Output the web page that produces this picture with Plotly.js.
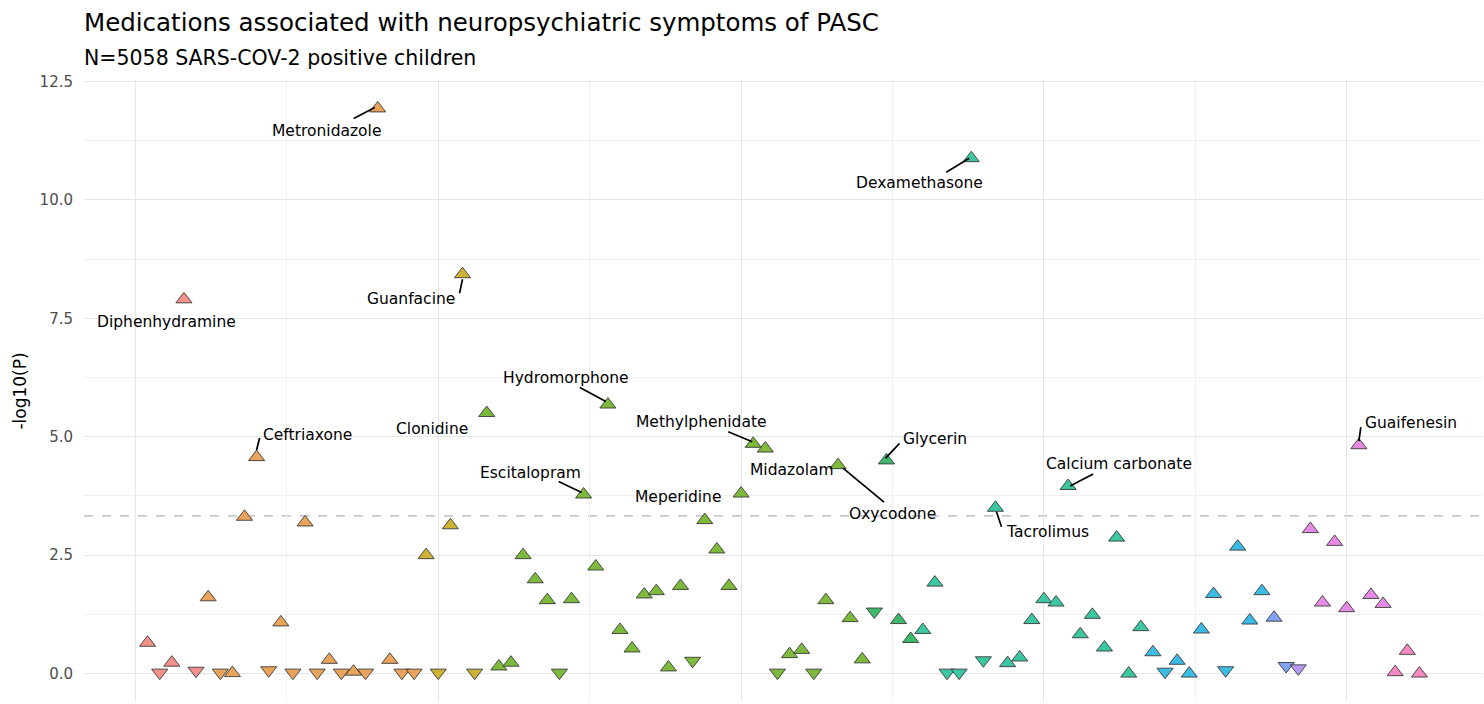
<!DOCTYPE html>
<html>
<head>
<meta charset="utf-8">
<script src="https://cdn.plot.ly/plotly-3.0.1.min.js"></script>
<style>
html,body{margin:0;padding:0;background:#fff;}
#chart{width:1484px;height:704px;}
</style>
</head>
<body>
<div id="chart"></div>
<script>
// ---------------- DATA ----------------
// medication order along the x axis: 1..106
const medIndex = [
  1,2,3,4,5,6,7,8,9,10,11,12,13,14,15,16,17,18,19,20,
  21,22,23,24,25,26,27,28,29,30,31,32,33,34,35,36,37,38,39,40,
  41,42,43,44,45,46,47,48,49,50,51,52,53,54,55,56,57,58,59,60,
  61,62,63,64,65,66,67,68,69,70,71,72,73,74,75,76,77,78,79,80,
  81,82,83,84,85,86,87,88,89,90,91,92,93,94,95,96,97,98,99,100,
  101,102,103,104,105,106
];
// -log10(P)
const negLogP = [
  0.65,0.02,0.23,7.90,0.06,1.61,0.02,0.01,3.31,4.57,
  0.07,1.08,0.02,3.19,0.02,0.29,0.02,0.04,0.02,11.93,
  0.29,0.02,0.02,2.50,0.02,3.13,8.43,0.02,5.50,0.15,
  0.23,2.50,1.99,1.55,0.02,1.57,3.78,2.26,5.68,0.92,
  0.53,1.67,1.74,0.13,1.85,0.27,3.24,2.62,1.85,3.80,
  4.85,4.75,0.02,0.41,0.50,0.02,1.55,4.40,1.17,0.30,
  1.31,4.50,1.13,0.73,0.92,1.92,0.02,0.02,10.88,0.28,
  3.50,0.22,0.34,1.13,1.57,1.50,3.96,0.83,1.24,0.55,
  2.87,0.00,0.98,0.45,0.04,0.27,0.00,0.93,1.68,0.07,
  2.68,1.12,1.74,1.18,0.16,0.11,3.05,1.50,2.78,1.38,
  4.82,1.66,1.47,0.03,0.48,0.00
];
// direction of association: "up" = risk, "down" = protective
const direction = [
  "up","down","up","up","down","up","down","up","up","up",
  "down","up","down","up","down","up","down","up","down","up",
  "up","down","down","up","down","up","up","down","up","up",
  "up","up","up","up","down","up","up","up","up","up",
  "up","up","up","up","up","down","up","up","up","up",
  "up","up","down","up","up","down","up","up","up","up",
  "down","up","up","up","up","up","down","down","up","down",
  "up","up","up","up","up","up","up","up","up","up",
  "up","up","up","up","down","up","up","up","up","down",
  "up","up","up","up","down","down","up","up","up","up",
  "up","up","up","up","up","up"
];
// medication class (group) of each point
const medClass = [
  "A","A","A","A","A",
  "B","B","B","B","B","B","B","B","B","B","B","B","B","B","B","B","B","B",
  "C","C","C","C","C",
  "D","D","D","D","D","D","D","D","D","D","D","D","D","D","D","D",
  "D","D","D","D","D","D","D","D","D","D","D","D","D","D","D","D",
  "E","E","E","E",
  "F","F","F","F","F","F","F","F","F","F","F","F","F","F","F","F","F","F","F",
  "G","G","G","G","G","G","G","G","G","G",
  "H","H",
  "I",
  "J","J","J","J","J","J","J",
  "K","K","K"
];
const classOrder = ["A","B","C","D","E","F","G","H","I","J","K"];

// labelled medications and the position (x index) of their point
const labelNames = ["Metronidazole","Dexamethasone","Guanfacine","Diphenhydramine",
  "Hydromorphone","Clonidine","Methylphenidate","Guaifenesin","Ceftriaxone",
  "Glycerin","Midazolam","Oxycodone","Calcium carbonate","Escitalopram",
  "Meperidine","Tacrolimus"];
const labelIndex = [20,69,27,4,39,29,51,101,10,62,52,58,77,37,47,71];

// significance threshold line (-log10 of Bonferroni P)
const threshold = 3.33;

// y tick values
const yTicks = [0,2.5,5,7.5,10,12.5];

const titleText = "Medications associated with neuropsychiatric symptoms of PASC";
const subtitleText = "N=5058 SARS-COV-2 positive children";

// ---------------- STYLES ----------------
const classColors = {
  A:"#F4908A", B:"#EAA35B", C:"#CDB236", D:"#7DBA3C", E:"#3DBA6C",
  F:"#3CC6A2", G:"#3CBCE5", H:"#80A3F3", I:"#B699F5", J:"#E78AE5", K:"#F48ABF"
};
// label placement in screen pixels relative to the point (x right, y down):
//  text: [dx, dy] centre of the text; seg: [sx, sy, ex, ey] leader segment or null
const labelPlacement = {
  "Metronidazole":   {text:[-51, 23], seg:[-24, 10, -3, -1]},
  "Dexamethasone":   {text:[-52, 25], seg:[-25, 14, -2, 0]},
  "Guanfacine":      {text:[-52, 25], seg:[-3, 19, 0, 5]},
  "Diphenhydramine": {text:[-17, 23], seg:null},
  "Hydromorphone":   {text:[-42,-27], seg:[-28,-17, -2,-3]},
  "Clonidine":       {text:[-55, 16], seg:null},
  "Methylphenidate": {text:[-52,-22], seg:[-25,-12, -1,-2]},
  "Guaifenesin":     {text:[ 52,-22], seg:[2,-18, 0,-4]},
  "Ceftriaxone":     {text:[ 51,-22], seg:[3,-19, 0,-7]},
  "Glycerin":        {text:[ 49,-21], seg:[13,-17, -1,-2]},
  "Midazolam":       {text:[ 27, 21], seg:null},
  "Oxycodone":       {text:[ 54, 49], seg:[46,37, 5,3]},
  "Calcium carbonate":{text:[51,-22], seg:[25,-12, 2,0]},
  "Escitalopram":    {text:[-53,-22], seg:[-25,-13, -2,-2]},
  "Meperidine":      {text:[-27,-23], seg:null},
  "Tacrolimus":      {text:[ 52, 24], seg:[6,19, 1,4]}
};
const FONT = "DejaVu Sans, Liberation Sans, Arial, sans-serif";

// ---------------- TRACES ----------------
const traces = [];
classOrder.forEach(cls => {
  ["up","down"].forEach(dir => {
    const xs = [], ys = [];
    for (let i = 0; i < medIndex.length; i++) {
      if (medClass[i] === cls && direction[i] === dir) {
        xs.push(medIndex[i]); ys.push(negLogP[i]);
      }
    }
    if (!xs.length) return;
    traces.push({
      type: "scatter", mode: "markers", x: xs, y: ys,
      name: cls + " " + dir, showlegend: false, hoverinfo: "x+y",
      marker: {
        symbol: dir === "up" ? "triangle-up" : "triangle-down",
        size: 14, color: classColors[cls],
        line: {color: "#3a3a3a", width: 0.9}
      }
    });
  });
});

// ---------------- ANNOTATIONS + LEADER SEGMENTS ----------------
const annotations = [];
const shapes = [{
  type: "line", xref: "paper", x0: 0, x1: 1, yref: "y", y0: threshold, y1: threshold,
  line: {color: "#B5B5B5", width: 1.4, dash: "dash"}, layer: "below"
}];
labelNames.forEach((name, k) => {
  const pos = medIndex.indexOf(labelIndex[k]);
  const px = medIndex[pos], py = negLogP[pos];
  const p = labelPlacement[name];
  annotations.push({
    x: px, y: py, xref: "x", yref: "y", text: name, showarrow: false,
    xshift: p.text[0], yshift: -p.text[1],
    font: {family: FONT, size: 15.5, color: "#000"}
  });
  if (p.seg) {
    shapes.push({
      type: "line", xref: "x", yref: "y",
      xsizemode: "pixel", ysizemode: "pixel", xanchor: px, yanchor: py,
      x0: p.seg[0], y0: -p.seg[1], x1: p.seg[2], y1: -p.seg[3],
      line: {color: "#000", width: 1.7}, layer: "above"
    });
  }
});
annotations.push({
  text: subtitleText, xref: "paper", yref: "paper", x: 0, y: 1 + 22/622,
  xanchor: "left", yanchor: "middle", showarrow: false, xshift: -2,
  font: {family: FONT, size: 20.5, color: "#000"}
});

const layout = {
  width: 1484, height: 704,
  paper_bgcolor: "#fff", plot_bgcolor: "#fff",
  margin: {l: 84, r: 1, t: 80, b: 2},
  title: {
    text: titleText,
    font: {family: FONT, size: 24.5, color: "#000"},
    x: 0, xref: "paper", xanchor: "left",
    y: 1 - 22/704, yref: "container", yanchor: "middle"
  },
  xaxis: {
    range: [-4.25, 111.25], showticklabels: false, ticks: "",
    showgrid: true, gridcolor: "#E6E6E6", gridwidth: 1.3,
    tick0: 0, dtick: 25, zeroline: false, showline: false,
    minor: {tick0: 0, dtick: 12.5, showgrid: true, gridcolor: "#F0F0F0", gridwidth: 0.8}
  },
  yaxis: {
    range: [-0.6, 12.53], tickvals: yTicks, tickformat: ".1f",
    tickfont: {family: FONT, size: 15, color: "#4D4D4D"},
    ticks: "", ticklabelstandoff: 10,
    showgrid: true, gridcolor: "#E6E6E6", gridwidth: 1.3,
    zeroline: false, showline: false,
    minor: {tickvals: [1.25,3.75,6.25,8.75,11.25], showgrid: true, gridcolor: "#F0F0F0", gridwidth: 0.8},
    title: {text: "-log10(P)", font: {family: FONT, size: 17, color: "#000"}, standoff: 8}
  },
  shapes: shapes,
  annotations: annotations,
  showlegend: false
};

Plotly.newPlot("chart", traces, layout, {displayModeBar: false});
</script>
</body>
</html>
